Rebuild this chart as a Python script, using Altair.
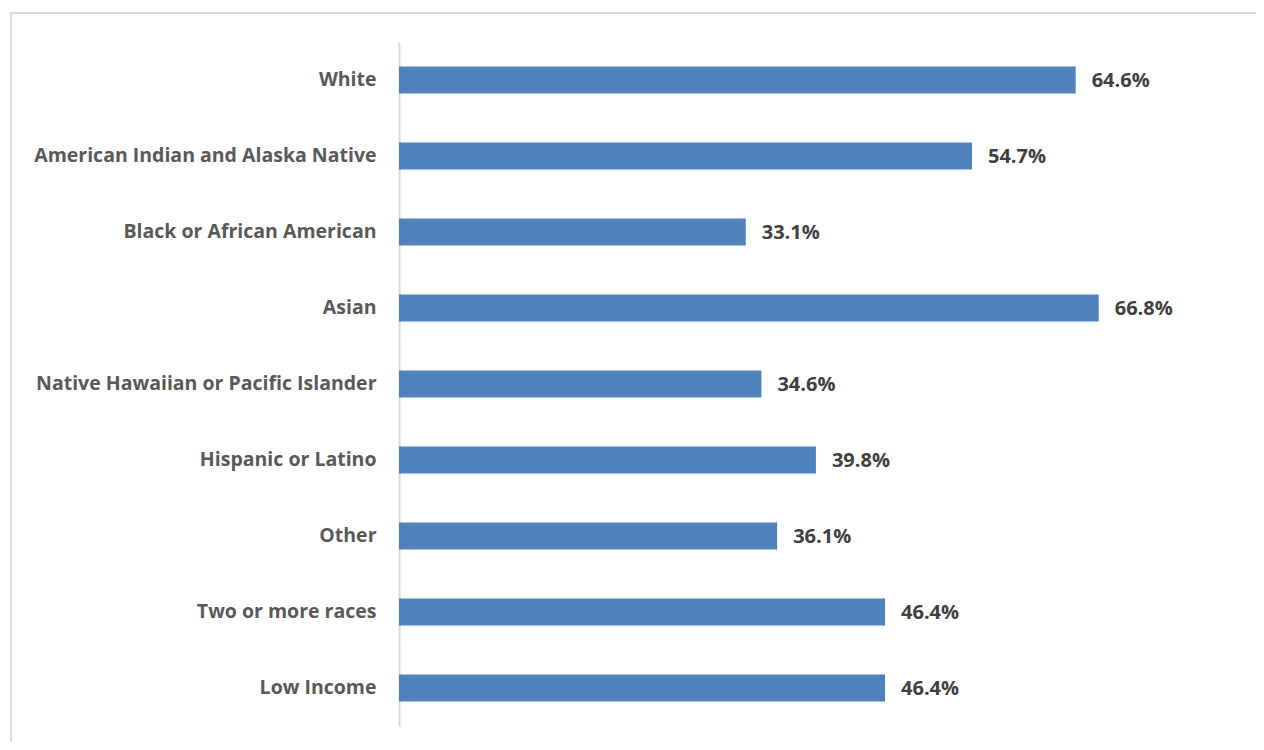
import altair as alt
import pandas as pd

categories = [
    "White",
    "American Indian and Alaska Native",
    "Black or African American",
    "Asian",
    "Native Hawaiian or Pacific Islander",
    "Hispanic or Latino",
    "Other",
    "Two or more races",
    "Low Income",
]
values = [64.6, 54.7, 33.1, 66.8, 34.6, 39.8, 36.1, 46.4, 46.4]

df = pd.DataFrame({"category": categories, "value": values})
df["label"] = [f"{v:.1f}%" for v in values]

FONT = "Open Sans"

y_enc = alt.Y(
    "category:N",
    sort=categories,
    scale=alt.Scale(paddingInner=0.645, paddingOuter=0.3225),
    axis=alt.Axis(
        title=None,
        ticks=False,
        domain=True,
        domainColor="#d9d9d9",
        domainWidth=2,
        labelFont=FONT,
        labelFontWeight="bold",
        labelFontSize=19.5,
        labelColor="#595959",
        labelPadding=23,
        labelLimit=400,
        grid=False,
    ),
)
x_enc = alt.X(
    "value:Q",
    scale=alt.Scale(domain=[0, 80], nice=False),
    axis=None,
)

border = alt.Chart(pd.DataFrame({"a": [0]})).mark_rect(
    fill="transparent", stroke="#d9d9d9", strokeWidth=2, clip=False
).encode(
    x=alt.value(-388), x2=alt.value(900), y=alt.value(-29), y2=alt.value(760)
)

bars = alt.Chart(df).mark_bar(color="#4f81bd", size=27).encode(y=y_enc, x=x_enc)

text = alt.Chart(df).mark_text(
    align="left", baseline="middle", dx=16, dy=1, font=FONT, fontWeight="bold",
    fontSize=20, color="#404040"
).encode(y=alt.Y("category:N", sort=categories), x="value:Q", text="label:N")

chart = alt.layer(border, bars, text).properties(
    width=838,
    height=684,
    autosize=alt.AutoSizeParams(type="none"),
    padding={"left": 391, "top": 34, "right": 19, "bottom": 16},
).configure_view(stroke=None).configure_axis(labelBaseline="middle")

chart.save("out.html", embed_options={"renderer": "svg", "actions": False})
